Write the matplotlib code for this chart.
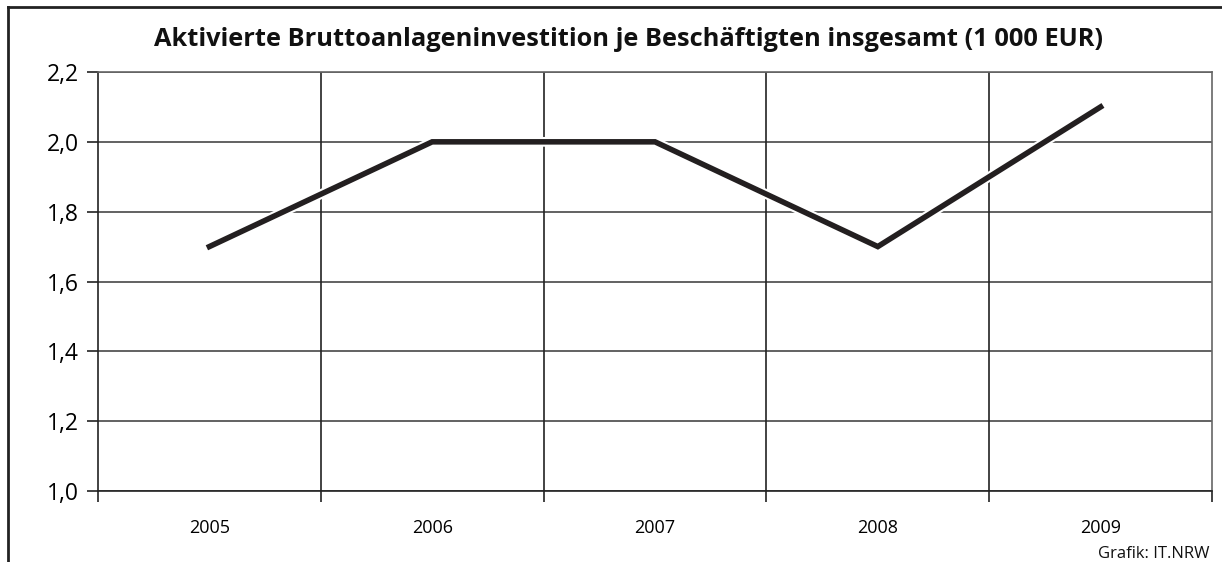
import matplotlib
matplotlib.use("Agg")
import matplotlib.pyplot as plt
from matplotlib.lines import Line2D
import matplotlib.patheffects as pe

years = ["2005", "2006", "2007", "2008", "2009"]
values = [1.7, 2.0, 2.0, 1.7, 2.1]
yticks = [1.0, 1.2, 1.4, 1.6, 1.8, 2.0, 2.2]
ytick_labels = ["1,0", "1,2", "1,4", "1,6", "1,8", "2,0", "2,2"]
title = "Aktivierte Bruttoanlageninvestition je Beschäftigten insgesamt (1 000 EUR)"
source = "Grafik: IT.NRW"

plt.rcParams['font.family'] = ['Open Sans', 'DejaVu Sans']

W, H = 1222, 562
fig = plt.figure(figsize=(W / 100, H / 100), dpi=100)
ax = fig.add_axes([98 / W, (H - 491) / H, (1212 - 98) / W, (491 - 72) / H])

x = list(range(len(years)))
ax.set_xlim(-0.5, len(years) - 0.5)
ax.set_ylim(1.0, 2.2)

# grid
for yv in yticks:
    ax.axhline(yv, color='#555555', lw=1.3, zorder=1)
for xv in [i + 0.5 for i in range(len(years) - 1)]:
    ax.axvline(xv, color='#222222', lw=1.2, zorder=1)

ax.plot(x, values, color='#231f20', lw=4, solid_joinstyle='miter', zorder=3,
        path_effects=[pe.Stroke(linewidth=7, foreground='white'), pe.Normal()])

for s in ax.spines.values():
    s.set_color('#222222')
    s.set_linewidth(1.2)
ax.spines['top'].set_color('#666666')
ax.spines['right'].set_color('#666666')

ax.set_yticks(yticks)
ax.set_yticklabels(ytick_labels, fontsize=16.5)
ax.tick_params(axis='y', length=8, width=1.2, color='#222222', pad=6)

ax.set_xticks([i - 0.5 for i in range(len(years) + 1)])
ax.set_xticklabels([""] * (len(years) + 1))
ax.tick_params(axis='x', which='major', length=8, width=1.2, color='#222222')
ax.set_xticks(x, minor=True)
ax.set_xticklabels(years, minor=True, fontsize=13)
ax.tick_params(axis='x', which='minor', length=0, pad=20)

fig.text(628 / W, 1 - 39 / H, title, ha='center', va='center',
         fontsize=18.3, fontweight='bold', color='#111111')
fig.text(1210 / W, 1 - 554 / H, source, ha='right', va='center', fontsize=12, color='#111111')

fig.add_artist(Line2D([8 / W, 8 / W], [0, 1 - 7 / H], transform=fig.transFigure, color='#222222', lw=2))
fig.add_artist(Line2D([8 / W, 1.0], [1 - 7 / H, 1 - 7 / H], transform=fig.transFigure, color='#222222', lw=2))

fig.savefig("out.png", dpi=100)
